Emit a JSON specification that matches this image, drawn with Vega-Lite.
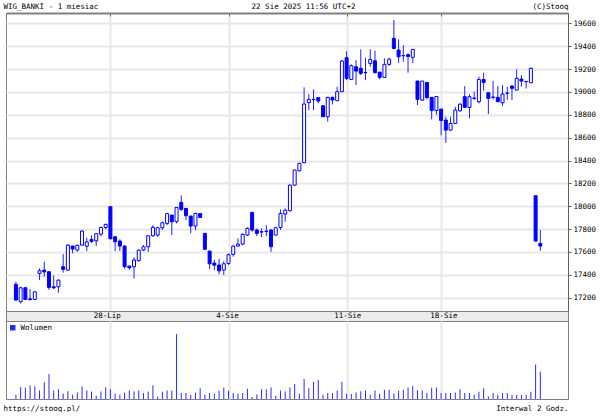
{
  "$schema": "https://vega.github.io/schema/vega-lite/v6.json",
  "background": "white",
  "padding": {"left": 2, "top": 1, "right": 0, "bottom": 0},
  "spacing": 0,
  "bounds": "flush",
  "resolve": {"scale": {"color": "independent"}, "legend": {"color": "independent"}},
  "config": {
    "font": "DejaVu Sans Mono",
    "view": {"stroke": "#808080"},
    "axis": {"labelFont": "DejaVu Sans Mono", "titleFont": "DejaVu Sans Mono", "titleFontWeight": "normal", "titleFontSize": 7.5, "labelFontSize": 7.5, "titleColor": "#000000", "labelColor": "#000000"},
    "legend": {"labelFont": "DejaVu Sans Mono", "labelFontSize": 7.5, "labelColor": "#000000"}
  },
  "datasets": {
    "bars": [
      {"i":0,"o":17317,"h":17340,"l":17171,"c":17180,"v":13},
      {"i":1,"o":17165,"h":17296,"l":17150,"c":17287,"v":36},
      {"i":2,"o":17287,"h":17296,"l":17180,"c":17185,"v":34},
      {"i":3,"o":17190,"h":17275,"l":17172,"c":17185,"v":41},
      {"i":4,"o":17185,"h":17255,"l":17183,"c":17252,"v":39},
      {"i":5,"o":17413,"h":17457,"l":17354,"c":17436,"v":26},
      {"i":6,"o":17442,"h":17515,"l":17384,"c":17426,"v":51},
      {"i":7,"o":17427,"h":17430,"l":17267,"c":17290,"v":76},
      {"i":8,"o":17296,"h":17395,"l":17275,"c":17287,"v":26},
      {"i":9,"o":17296,"h":17360,"l":17244,"c":17354,"v":30},
      {"i":10,"o":17471,"h":17582,"l":17419,"c":17448,"v":16},
      {"i":11,"o":17442,"h":17669,"l":17433,"c":17660,"v":24},
      {"i":12,"o":17652,"h":17652,"l":17588,"c":17626,"v":13},
      {"i":13,"o":17617,"h":17666,"l":17602,"c":17658,"v":20},
      {"i":14,"o":17660,"h":17789,"l":17652,"c":17783,"v":39},
      {"i":15,"o":17650,"h":17725,"l":17608,"c":17688,"v":26},
      {"i":16,"o":17710,"h":17745,"l":17680,"c":17693,"v":23},
      {"i":17,"o":17698,"h":17765,"l":17652,"c":17760,"v":10},
      {"i":18,"o":17756,"h":17823,"l":17736,"c":17814,"v":23},
      {"i":19,"o":17814,"h":17850,"l":17800,"c":17841,"v":35},
      {"i":20,"o":17996,"h":18000,"l":17710,"c":17716,"v":30},
      {"i":21,"o":17733,"h":17740,"l":17608,"c":17690,"v":17},
      {"i":22,"o":17696,"h":17710,"l":17608,"c":17652,"v":13},
      {"i":23,"o":17652,"h":17660,"l":17454,"c":17471,"v":20},
      {"i":24,"o":17477,"h":17480,"l":17445,"c":17462,"v":26},
      {"i":25,"o":17471,"h":17553,"l":17369,"c":17530,"v":23},
      {"i":26,"o":17524,"h":17623,"l":17515,"c":17617,"v":26},
      {"i":27,"o":17617,"h":17660,"l":17608,"c":17646,"v":18},
      {"i":28,"o":17646,"h":17745,"l":17602,"c":17742,"v":23},
      {"i":29,"o":17742,"h":17835,"l":17733,"c":17815,"v":42},
      {"i":30,"o":17748,"h":17820,"l":17733,"c":17812,"v":8},
      {"i":31,"o":17812,"h":17865,"l":17792,"c":17856,"v":22},
      {"i":32,"o":17850,"h":17943,"l":17835,"c":17935,"v":26},
      {"i":33,"o":17923,"h":17925,"l":17748,"c":17865,"v":26},
      {"i":34,"o":17865,"h":17990,"l":17850,"c":17990,"v":198},
      {"i":35,"o":18034,"h":18095,"l":17960,"c":17972,"v":18},
      {"i":36,"o":17981,"h":17985,"l":17880,"c":17917,"v":18},
      {"i":37,"o":17914,"h":17918,"l":17763,"c":17827,"v":12},
      {"i":38,"o":17827,"h":17943,"l":17790,"c":17937,"v":20},
      {"i":39,"o":17937,"h":17940,"l":17900,"c":17902,"v":33},
      {"i":40,"o":17763,"h":17765,"l":17617,"c":17623,"v":13},
      {"i":41,"o":17608,"h":17611,"l":17450,"c":17497,"v":18},
      {"i":42,"o":17503,"h":17532,"l":17442,"c":17485,"v":15},
      {"i":43,"o":17486,"h":17540,"l":17405,"c":17435,"v":25},
      {"i":44,"o":17442,"h":17520,"l":17398,"c":17497,"v":35},
      {"i":45,"o":17500,"h":17588,"l":17487,"c":17576,"v":25},
      {"i":46,"o":17579,"h":17660,"l":17559,"c":17652,"v":18},
      {"i":47,"o":17652,"h":17719,"l":17646,"c":17669,"v":16},
      {"i":48,"o":17669,"h":17763,"l":17660,"c":17754,"v":18},
      {"i":49,"o":17748,"h":17815,"l":17739,"c":17806,"v":31},
      {"i":50,"o":17946,"h":17952,"l":17777,"c":17792,"v":6},
      {"i":51,"o":17792,"h":17806,"l":17739,"c":17763,"v":14},
      {"i":52,"o":17777,"h":17806,"l":17728,"c":17775,"v":30},
      {"i":53,"o":17780,"h":17835,"l":17739,"c":17783,"v":30},
      {"i":54,"o":17792,"h":17800,"l":17602,"c":17646,"v":35},
      {"i":55,"o":17748,"h":17820,"l":17745,"c":17812,"v":10},
      {"i":56,"o":17815,"h":17972,"l":17792,"c":17937,"v":26},
      {"i":57,"o":17932,"h":17981,"l":17865,"c":17966,"v":23},
      {"i":58,"o":17961,"h":18190,"l":17955,"c":18185,"v":35},
      {"i":59,"o":18185,"h":18320,"l":18180,"c":18316,"v":46},
      {"i":60,"o":18310,"h":18380,"l":18305,"c":18375,"v":16},
      {"i":61,"o":18381,"h":19040,"l":18375,"c":18894,"v":61},
      {"i":62,"o":18906,"h":18980,"l":18840,"c":18935,"v":33},
      {"i":63,"o":18935,"h":19022,"l":18841,"c":18933,"v":53},
      {"i":64,"o":18950,"h":18955,"l":18900,"c":18920,"v":58},
      {"i":65,"o":18879,"h":18885,"l":18780,"c":18783,"v":13},
      {"i":66,"o":18783,"h":18958,"l":18740,"c":18952,"v":18},
      {"i":67,"o":18952,"h":18960,"l":18890,"c":18929,"v":18},
      {"i":68,"o":18923,"h":19045,"l":18920,"c":19002,"v":26},
      {"i":69,"o":19002,"h":19280,"l":19000,"c":19270,"v":53},
      {"i":70,"o":19299,"h":19357,"l":19103,"c":19118,"v":16},
      {"i":71,"o":19109,"h":19241,"l":19103,"c":19229,"v":15},
      {"i":72,"o":19220,"h":19278,"l":19060,"c":19182,"v":20},
      {"i":73,"o":19206,"h":19372,"l":19147,"c":19162,"v":24},
      {"i":74,"o":19168,"h":19299,"l":19103,"c":19170,"v":26},
      {"i":75,"o":19249,"h":19372,"l":19220,"c":19284,"v":13},
      {"i":76,"o":19272,"h":19360,"l":19162,"c":19168,"v":26},
      {"i":77,"o":19173,"h":19173,"l":19109,"c":19127,"v":16},
      {"i":78,"o":19127,"h":19293,"l":19127,"c":19241,"v":28},
      {"i":79,"o":19241,"h":19299,"l":19226,"c":19287,"v":28},
      {"i":80,"o":19468,"h":19628,"l":19372,"c":19380,"v":17},
      {"i":81,"o":19366,"h":19459,"l":19255,"c":19307,"v":25},
      {"i":82,"o":19316,"h":19409,"l":19264,"c":19318,"v":28},
      {"i":83,"o":19325,"h":19337,"l":19168,"c":19310,"v":35},
      {"i":84,"o":19302,"h":19372,"l":19250,"c":19372,"v":40},
      {"i":85,"o":19095,"h":19095,"l":18885,"c":18934,"v":27},
      {"i":86,"o":18929,"h":19095,"l":18920,"c":19095,"v":26},
      {"i":87,"o":19083,"h":19083,"l":18935,"c":18950,"v":18},
      {"i":88,"o":18952,"h":18952,"l":18760,"c":18838,"v":34},
      {"i":89,"o":18838,"h":18962,"l":18800,"c":18960,"v":35},
      {"i":90,"o":18850,"h":18850,"l":18620,"c":18750,"v":18},
      {"i":91,"o":18754,"h":18783,"l":18555,"c":18666,"v":18},
      {"i":92,"o":18666,"h":18783,"l":18660,"c":18724,"v":18},
      {"i":93,"o":18724,"h":18870,"l":18718,"c":18841,"v":20},
      {"i":94,"o":18835,"h":18899,"l":18827,"c":18893,"v":30},
      {"i":95,"o":18958,"h":19051,"l":18864,"c":18864,"v":18},
      {"i":96,"o":18864,"h":18981,"l":18768,"c":18958,"v":18},
      {"i":97,"o":18943,"h":19002,"l":18929,"c":18946,"v":13},
      {"i":98,"o":18914,"h":19133,"l":18899,"c":19109,"v":22},
      {"i":99,"o":19109,"h":19168,"l":19010,"c":19083,"v":33},
      {"i":100,"o":18993,"h":18993,"l":18806,"c":18943,"v":8},
      {"i":101,"o":18952,"h":19095,"l":18934,"c":18955,"v":18},
      {"i":102,"o":18952,"h":19051,"l":18914,"c":18914,"v":13},
      {"i":103,"o":18905,"h":19060,"l":18876,"c":18981,"v":18},
      {"i":104,"o":18987,"h":19045,"l":18929,"c":18990,"v":18},
      {"i":105,"o":19051,"h":19060,"l":18929,"c":19031,"v":12},
      {"i":106,"o":19016,"h":19197,"l":19016,"c":19118,"v":12},
      {"i":107,"o":19112,"h":19147,"l":19045,"c":19095,"v":12},
      {"i":108,"o":19090,"h":19095,"l":19030,"c":19092,"v":13},
      {"i":109,"o":19080,"h":19215,"l":19080,"c":19206,"v":22},
      {"i":110,"o":18092,"h":18092,"l":17690,"c":17696,"v":105},
      {"i":111,"o":17675,"h":17792,"l":17611,"c":17652,"v":83}
    ],
    "days": [
      {"i":20,"d":"28-Lip"},
      {"i":45,"d":"4-Sie"},
      {"i":70,"d":"11-Sie"},
      {"i":90,"d":"18-Sie"}
    ]
  },
  "vconcat": [
    {
      "width": 562,
      "height": 298,
      "data": {"name": "bars"},
      "resolve": {"axis": {"y": "independent"}},
      "layer": [
        {
          "mark": {"type": "rule", "color": "#2020ff", "strokeWidth": 1},
          "encoding": {
            "x": {
              "field": "i", "type": "quantitative",
              "scale": {"domain": [-1.04, 115.8], "nice": false, "zero": false},
              "axis": {"orient": "top", "values": [20, 45, 70, 90], "labels": false, "ticks": true, "tickSize": -3, "tickColor": "#707070", "domainColor": "#808080", "domainWidth": 2, "grid": true, "gridColor": "#e8e8e8", "gridWidth": 2, "title": "22 Sie 2025 11:56 UTC+2", "titleX": 297, "titleY": -5, "titleAlign": "center", "titleBaseline": "alphabetic"}
            },
            "y": {
              "field": "l", "type": "quantitative",
              "scale": {"domain": [17084, 19690], "nice": false, "zero": false},
              "axis": {"orient": "right", "values": [17200, 17400, 17600, 17800, 18000, 18200, 18400, 18600, 18800, 19000, 19200, 19400, 19600], "format": "d", "grid": true, "gridColor": "#e8e8e8", "gridWidth": 2, "domainColor": "#606060", "tickColor": "#606060", "tickSize": 3, "labelPadding": 2, "title": "(C)Stooq", "titleAngle": 0, "titleAlign": "right", "titleBaseline": "alphabetic", "titleX": 0, "titleY": -5}
            },
            "y2": {"field": "h"}
          }
        },
        {
          "mark": {"type": "bar", "size": 3, "stroke": "#0000ff", "strokeWidth": 1},
          "encoding": {
            "x": {"field": "i", "type": "quantitative"},
            "y": {
              "field": "o", "type": "quantitative",
              "axis": {"orient": "left", "domain": false, "ticks": false, "labels": false, "grid": false, "title": "WIG_BANKI - 1 miesiac", "titleAngle": 0, "titleAlign": "left", "titleBaseline": "alphabetic", "titleX": -3, "titleY": -5}
            },
            "y2": {"field": "c"},
            "fill": {"condition": {"test": "datum.c < datum.o", "value": "#0000ff"}, "value": "#ffffff"}
          }
        }
      ]
    },
    {
      "width": 562,
      "height": 10,
      "data": {"name": "days"},
      "view": {"fill": "#ececec", "stroke": "#808080"},
      "mark": {"type": "text", "fontSize": 7.5, "font": "DejaVu Sans Mono", "color": "#000000"},
      "encoding": {
        "x": {"field": "i", "type": "quantitative", "scale": {"domain": [-1.04, 115.8], "nice": false, "zero": false}, "axis": null},
        "text": {"field": "d"}
      }
    },
    {
      "width": 562,
      "height": 78,
      "data": {"name": "bars"},
      "mark": {"type": "bar", "size": 1},
      "encoding": {
        "x": {
          "field": "i", "type": "quantitative",
          "scale": {"domain": [-1.04, 115.8], "nice": false, "zero": false},
          "axis": {"orient": "bottom", "values": [20, 45, 70, 90], "labels": false, "ticks": false, "domain": false, "grid": true, "gridColor": "#e8e8e8", "gridWidth": 2, "title": "Interwal 2 Godz.", "titleX": 562, "titleY": 11, "titleAlign": "right", "titleBaseline": "alphabetic"}
        },
        "y": {
          "field": "v", "type": "quantitative",
          "scale": {"domain": [0, 238], "nice": false},
          "axis": {"orient": "left", "domain": false, "ticks": false, "labels": false, "grid": false, "title": "https://stooq.pl/", "titleAngle": 0, "titleAlign": "left", "titleBaseline": "alphabetic", "titleX": -3, "titleY": 89}
        },
        "color": {
          "datum": "Wolumen", "type": "nominal",
          "scale": {"range": ["#2a2aff"]},
          "legend": {"orient": "top-left", "title": null, "symbolType": "square", "symbolSize": 30, "symbolStrokeWidth": 0, "padding": 0, "offset": 3}
        }
      }
    }
  ]
}
